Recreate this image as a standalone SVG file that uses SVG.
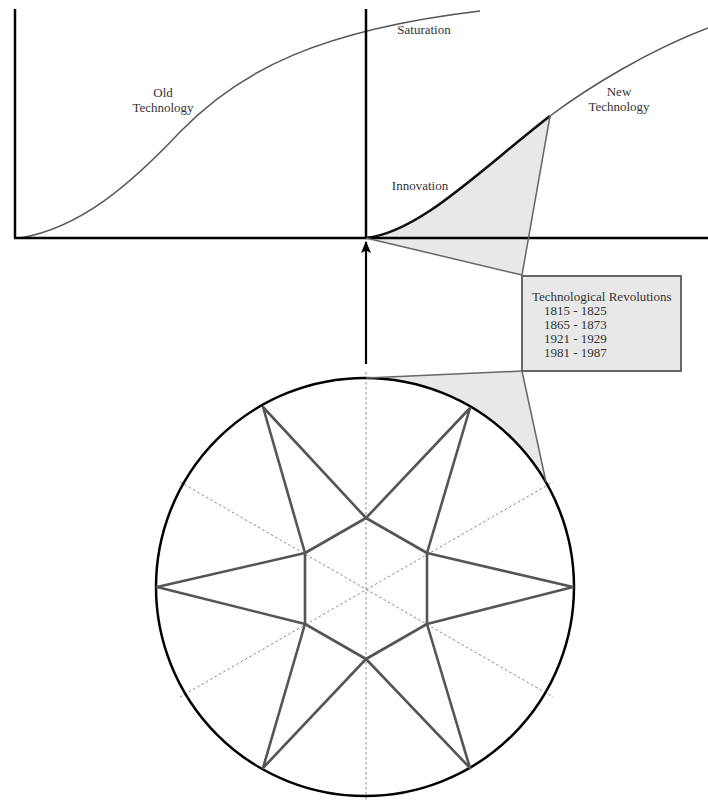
<svg xmlns="http://www.w3.org/2000/svg" width="708" height="801" viewBox="0 0 708 801">
<style>
text{font-family:"Liberation Serif","Times New Roman",serif;font-size:13px;fill:#333}
.axis{stroke:#000;stroke-width:2.5;fill:none}
.curve{stroke:#555;stroke-width:1.5;fill:none}
.bold{stroke:#111;stroke-width:2.6;fill:none}
.shade{fill:#e8e8e8;stroke:none}
.edge{stroke:#666;stroke-width:1.5;fill:none}
.star{stroke:#555;stroke-width:2.6;fill:none;stroke-linejoin:round}
.dash{stroke:#888;stroke-width:1;stroke-dasharray:2.5,2.5;fill:none}
</style>
<defs>
<marker id="ah" markerWidth="12" markerHeight="10" refX="11" refY="5" orient="auto" markerUnits="userSpaceOnUse" viewBox="0 0 12 10">
<path d="M0,0 L12,5 L0,10 L2.5,5 Z" fill="#000"/>
</marker>
</defs>
<rect width="708" height="801" fill="#fff"/>

<g id="chart">
<path class="curve" d="M20,238 C80,228 130,185 180,132 C240,70 320,30 480,11"/>
<path class="shade" d="M366,238 C420,232 480,170 550,116 L522,275 Z"/>
<path class="curve" d="M550,116 C590,86 650,50 708,28"/>
<path class="bold" d="M366,238 C420,232 480,170 550,116"/>
<line class="axis" x1="15" y1="9" x2="15" y2="238"/>
<line class="axis" x1="366" y1="9" x2="366" y2="238"/>
<line class="axis" x1="14" y1="238" x2="708" y2="238"/>
<text x="163" y="97" text-anchor="middle">Old</text>
<text x="163" y="112" text-anchor="middle">Technology</text>
<text x="424" y="34" text-anchor="middle">Saturation</text>
<text x="619" y="96" text-anchor="middle">New</text>
<text x="619" y="111" text-anchor="middle">Technology</text>
<text x="420" y="190" text-anchor="middle">Innovation</text>
</g>

<g id="wheel">
<path class="shade" d="M365,378 L522,371 L546,482.5 A209,209 0 0 0 365,378 Z"/>
<line class="dash" x1="366" y1="372" x2="366" y2="800"/>
<line class="dash" x1="180" y1="482" x2="553" y2="697"/>
<line class="dash" x1="180" y1="697" x2="553" y2="482"/>
<circle cx="365" cy="587" r="209" fill="none" stroke="#000" stroke-width="2.5"/>
<polygon class="star" points="366,518 427,553 427,624 366,659 305,624 305,553"/>
<polyline class="star" points="305,553 263,407 366,518 470,408 427,553 573,587 427,624 470,768 366,659 263,768 305,624 157,587 305,553"/>
</g>

<g id="revolutions">
<rect x="522" y="276" width="159" height="95" fill="#e8e8e8" stroke="#666" stroke-width="2"/>
<text x="532" y="301">Technological Revolutions</text>
<text x="544" y="315">1815 - 1825</text>
<text x="544" y="329">1865 - 1873</text>
<text x="544" y="343">1921 - 1929</text>
<text x="544" y="357">1981 - 1987</text>
</g>

<g id="connectors">
<line class="edge" x1="366" y1="238" x2="522" y2="275"/>
<line class="edge" x1="550" y1="116" x2="522" y2="275"/>
<line class="edge" x1="366" y1="378" x2="522" y2="371"/>
<line class="edge" x1="522" y1="371" x2="546" y2="482"/>
<line x1="366" y1="364" x2="366" y2="242" stroke="#000" stroke-width="2.2" marker-end="url(#ah)"/>
</g>
</svg>
